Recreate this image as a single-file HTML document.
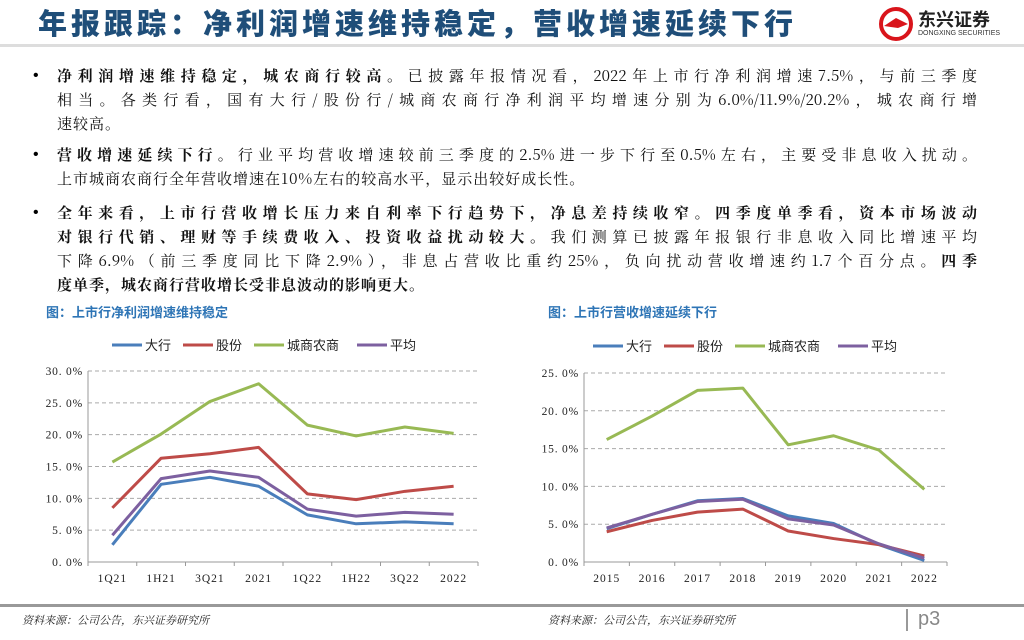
<!DOCTYPE html>
<html><head><meta charset="utf-8"><style>
body{margin:0;width:1024px;height:640px;background:#fff;position:relative;overflow:hidden;font-family:"Noto Serif CJK SC",serif}
.abs{position:absolute}
#title{left:38px;top:2px;font:900 29px "Noto Sans CJK SC",sans-serif;color:#1f4e79;letter-spacing:4px;white-space:nowrap;line-height:40px}
.ln{position:absolute;left:57px;width:920px;font-size:15px;line-height:24px;height:24px;color:#111;white-space:nowrap;text-align:justify;text-align-last:justify;font-family:"Noto Serif CJK SC",serif}
.ln.last{text-align-last:left;letter-spacing:1px}
.bul{position:absolute;left:33px;font:16px "Liberation Sans",sans-serif;line-height:24px}
.ct{position:absolute;top:302px;font:bold 13px "Liberation Sans","Noto Sans CJK SC",sans-serif;color:#2e75b6}
.foot{position:absolute;top:612px;font-size:11px;font-style:italic;color:#222}
</style></head><body>
<div id="title" class="abs">年报跟踪：净利润增速维持稳定，营收增速延续下行</div>
<div class="abs" style="left:878px;top:6px;width:140px;height:36px">
<svg width="36" height="36" style="position:absolute;left:0;top:0"><circle cx="18" cy="18" r="15" fill="none" stroke="#d9141b" stroke-width="4"/><path d="M6 20 L18 12 L30 18 L20 22 Z" fill="#d9141b"/></svg>
<div style="position:absolute;left:40px;top:0;font:bold 18px 'Noto Sans CJK SC',sans-serif;color:#222">东兴证券</div>
<div style="position:absolute;left:40px;top:24px;font:7px 'Liberation Sans',sans-serif;color:#333">DONGXING SECURITIES</div>
</div>
<div class="abs" style="left:0;top:44px;width:1024px;height:3px;background:#ddd"></div>

<div class="bul" style="top:64px">•</div>
<div class="ln" style="top:64px"><b>净利润增速维持稳定，城农商行较高。</b>已披露年报情况看，2022年上市行净利润增速7.5%，与前三季度</div>
<div class="ln" style="top:88px">相当。各类行看，国有大行/股份行/城商农商行净利润平均增速分别为6.0%/11.9%/20.2%，城农商行增</div>
<div class="ln last" style="top:112px">速较高。</div>
<div class="bul" style="top:143px">•</div>
<div class="ln" style="top:143px"><b>营收增速延续下行。</b>行业平均营收增速较前三季度的2.5%进一步下行至0.5%左右，主要受非息收入扰动。</div>
<div class="ln last" style="top:167px">上市城商农商行全年营收增速在10%左右的较高水平，显示出较好成长性。</div>
<div class="bul" style="top:201px">•</div>
<div class="ln" style="top:201px"><b>全年来看，上市行营收增长压力来自利率下行趋势下，净息差持续收窄。四季度单季看，资本市场波动</b></div>
<div class="ln" style="top:225px"><b>对银行代销、理财等手续费收入、投资收益扰动较大。</b>我们测算已披露年报银行非息收入同比增速平均</div>
<div class="ln" style="top:249px">下降6.9%（前三季度同比下降2.9%），非息占营收比重约25%，负向扰动营收增速约1.7个百分点。<b>四季</b></div>
<div class="ln last" style="top:273px"><b>度单季，城农商行营收增长受非息波动的影响更大。</b></div>

<div class="ct" style="left:46px">图：上市行净利润增速维持稳定</div>
<div class="ct" style="left:548px">图：上市行营收增速延续下行</div>

<svg id="c1" class="abs" style="left:0;top:0" width="1024" height="640"></svg>

<div class="abs" style="left:0;top:604px;width:1024px;height:3px;background:#999"></div>
<div class="foot" style="left:22px">资料来源：公司公告，东兴证券研究所</div>
<div class="foot" style="left:548px">资料来源：公司公告，东兴证券研究所</div>
<div class="abs" style="left:906px;top:609px;width:2px;height:22px;background:#999"></div>
<div class="abs" style="left:918px;top:608px;font:20px 'Liberation Sans',sans-serif;color:#888">p3</div>

<script>
const seriesNames=["大行","股份","城商农商","平均"];
const colors=["#4a7ebb","#be4b48","#98b954","#7d60a0"];
const cats1=["1Q21","1H21","3Q21","2021","1Q22","1H22","3Q22","2022"];
const big1=[2.7,12.2,13.3,11.9,7.4,6.0,6.3,6.0];
const jt1=[8.5,16.3,17.0,18.0,10.7,9.8,11.1,11.9];
const city1=[15.7,20.1,25.2,28.0,21.5,19.8,21.2,20.2];
const avg1=[4.2,13.1,14.3,13.3,8.3,7.2,7.8,7.5];
const ticks1=[0,5,10,15,20,25,30];
const cats2=["2015","2016","2017","2018","2019","2020","2021","2022"];
const big2=[4.4,6.3,8.1,8.4,6.1,5.1,2.3,0.2];
const jt2=[4.0,5.5,6.6,7.0,4.1,3.1,2.3,0.8];
const city2=[16.2,19.3,22.7,23.0,15.5,16.7,14.8,9.6];
const avg2=[4.5,6.3,8.0,8.3,5.7,4.9,2.4,0.5];
const ticks2=[0,5,10,15,20,25];

const NS="http://www.w3.org/2000/svg";
const svg=document.getElementById('c1');
function mk(t,a,p){const e=document.createElementNS(NS,t);for(const k in a)e.setAttribute(k,a[k]);(p||svg).appendChild(e);return e;}
function draw(o){
  const g=mk('g',{});
  
  
  const max=o.ticks[o.ticks.length-1];
  const n=o.cats.length, bw=(o.x1-o.x0)/n;
  const X=i=>o.x0+bw*(i+0.5);
  const Y=v=>o.y0-(v/max)*(o.y0-o.yt);
  o.ticks.forEach(t=>{
    if(t>0){const l=mk('line',{x1:o.x0,x2:o.x1,y1:Y(t),y2:Y(t),stroke:'#aaa','stroke-dasharray':'4,3','stroke-width':1},g);
    }
    const tx=mk('text',{x:o.x0-5,y:Y(t)+4,'text-anchor':'end','font-size':11.5,'letter-spacing':0.8,'font-family':'Liberation Serif,serif',fill:'#222'},g);
    tx.textContent=t.toFixed(1).replace('.','. ')+'%';
    
  });
  mk('line',{x1:o.x0,x2:o.x0,y1:o.yt,y2:o.y0,stroke:'#999'},g);
  mk('line',{x1:o.x0,x2:o.x1,y1:o.y0,y2:o.y0,stroke:'#999'},g);
  for(let i=0;i<=n;i++)mk('line',{x1:o.x0+bw*i,x2:o.x0+bw*i,y1:o.y0,y2:o.y0+4,stroke:'#999'},g);
  o.cats.forEach((c,i)=>{const tx=mk('text',{x:X(i),y:o.y0+20,'text-anchor':'middle','font-size':11.5,'letter-spacing':1,'font-family':'Liberation Serif,serif',fill:'#222'},g);
    tx.textContent=c;});
  o.series.forEach((s,k)=>{
    const p=mk('polyline',{points:s.map((v,i)=>X(i)+','+Y(v)).join(' '),fill:'none',stroke:colors[k],'stroke-width':3,'stroke-linejoin':'round'},g);
    
  });
  let lx=o.lx;
  seriesNames.forEach((nm,k)=>{
    mk('line',{x1:lx,x2:lx+30,y1:o.ly,y2:o.ly,stroke:colors[k],'stroke-width':3},g);
    const tx=mk('text',{x:lx+33,y:o.ly+5,'font-size':13,'font-family':'Noto Sans CJK SC,sans-serif',fill:'#222'},g);
    tx.textContent=nm;
    lx+=33+nm.length*14+10+(k==2?4:0);
  });
}
draw({name:'net-profit-chart',cats:cats1,series:[big1,jt1,city1,avg1],ticks:ticks1,x0:88,x1:478,y0:562,yt:371,lx:112,ly:345});
draw({name:'revenue-chart',cats:cats2,series:[big2,jt2,city2,avg2],ticks:ticks2,x0:584,x1:947,y0:562,yt:373,lx:593,ly:346});
</script>
</body></html>
